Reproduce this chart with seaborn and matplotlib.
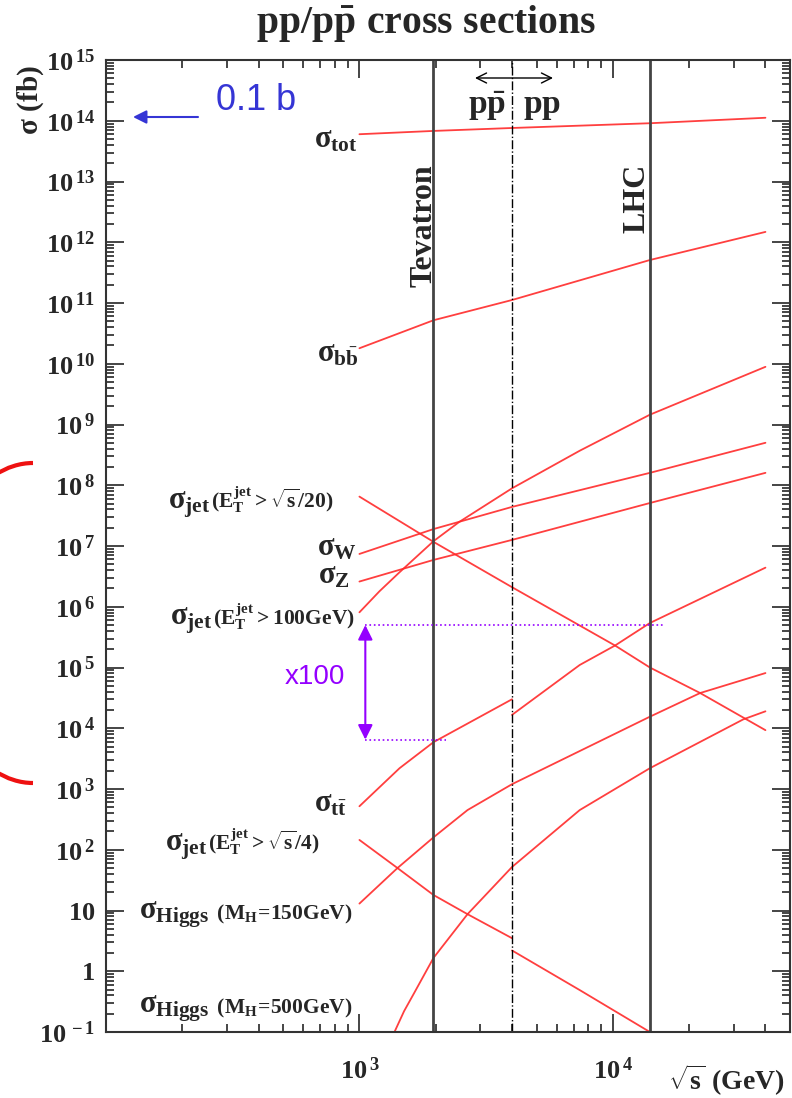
import matplotlib
matplotlib.use('Agg')
import matplotlib.pyplot as plt
import seaborn as sns
from matplotlib.patches import Arc
from matplotlib.ticker import FixedLocator, FixedFormatter, LogLocator, NullFormatter

# sqrt(s) in GeV and cross sections in fb
rs_tot = [1000, 1960, 4000, 14000, 40000]
sig_tot = [6.0e13, 6.8e13, 7.6e13, 9.1e13, 1.12e14]

rs_bb = [1000, 1960, 4000, 14000, 40000]
sig_bb = [1.8e10, 5.2e10, 1.12e11, 5.1e11, 1.48e12]

rs_jet20 = [1000, 1960, 4000, 10200, 14000, 22100, 40000]
sig_jet20 = [6.5e7, 1.17e7, 2.1e6, 2.3e5, 1.0e5, 3.8e4, 9.3e3]

rs_w = [1000, 1960, 4000, 14000, 40000]
sig_w = [7.4e6, 1.9e7, 4.4e7, 1.6e8, 5.0e8]

rs_z = [1000, 1960, 4000, 14000, 40000]
sig_z = [2.6e6, 5.9e6, 1.26e7, 5.1e7, 1.6e8]

rs_jet100 = [1000, 1200, 1440, 1960, 2480, 4000, 7400, 14000, 40000]
sig_jet100 = [8.1e5, 1.8e6, 3.7e6, 1.2e7, 2.5e7, 8.9e7, 3.7e8, 1.45e9, 8.9e9]

# ttbar: ppbar below 4 TeV, pp above
rs_tt_ppbar = [1000, 1440, 1960, 4000]
sig_tt_ppbar = [5.2e2, 2.2e3, 5.9e3, 3.0e4]
rs_tt_pp = [4000, 7400, 10200, 14000, 40000]
sig_tt_pp = [1.66e4, 1.1e5, 2.3e5, 5.4e5, 4.4e6]

rs_h150 = [1000, 1413, 1960, 2670, 4000, 14000, 22100, 40000]
sig_h150 = [13, 50, 160, 450, 1.2e3, 1.55e4, 3.8e4, 8.1e4]

rs_jet4_ppbar = [1000, 1413, 1960, 2670, 4000]
sig_jet4_ppbar = [145, 50, 18, 8.7, 3.5]
rs_jet4_pp = [4000, 7400, 14000]
sig_jet4_pp = [2.2, 0.49, 0.1]

rs_h500 = [1375, 1500, 1650, 1960, 2670, 4000, 7400, 14000, 32700, 40000]
sig_h500 = [0.1, 0.22, 0.45, 1.66, 8.7, 52, 450, 2.2e3, 1.4e4, 1.9e4]

# x100 marker (ttbar Tevatron vs LHC)
x100_hi = 5.0e5
x100_lo = 6.5e3

sns.set_style('ticks')
plt.rcParams['font.family'] = ['Liberation Serif', 'DejaVu Serif']
plt.rcParams['font.weight'] = 'bold'
plt.rcParams['mathtext.fontset'] = 'custom'
plt.rcParams['mathtext.rm'] = 'Liberation Serif:bold'
plt.rcParams['mathtext.it'] = 'Liberation Serif:bold'
plt.rcParams['mathtext.bf'] = 'Liberation Serif:bold'

W, H = 792, 1098
fig = plt.figure(figsize=(W / 100, H / 100), dpi=100)
ax = fig.add_axes([106 / W, 1 - 1032 / H, (790 - 106) / W, (1032 - 60) / H])

red = '#ff2a2a'
curves = [(rs_tot, sig_tot), (rs_bb, sig_bb), (rs_jet20, sig_jet20), (rs_w, sig_w),
          (rs_z, sig_z), (rs_jet100, sig_jet100), (rs_tt_ppbar, sig_tt_ppbar),
          (rs_tt_pp, sig_tt_pp), (rs_h150, sig_h150), (rs_jet4_ppbar, sig_jet4_ppbar),
          (rs_jet4_pp, sig_jet4_pp), (rs_h500, sig_h500)]
for xs, ys in curves:
    sns.lineplot(x=xs, y=ys, ax=ax, color=red, lw=1.3, alpha=0.9,
                 sort=False, estimator=None)

ax.set_xscale('log')
ax.set_yscale('log')
ax.set_xlim(100, 50000)
ax.set_ylim(0.1, 1e15)

# collider lines
ax.axvline(1960, color='#444444', lw=2)
ax.axvline(14000, color='#444444', lw=2)
ax.axvline(4000, color='black', lw=1, ls='-.')

# x100 marker
purple = '#9400ff'
ax.hlines(x100_hi, 1055, 15800, color=purple, lw=1.2, ls=':')
ax.hlines(x100_lo, 1055, 2200, color=purple, lw=1.2, ls=':')
ax.annotate('', xy=(1055, x100_lo), xytext=(1055, x100_hi),
            arrowprops=dict(arrowstyle='<|-|>', color=purple, lw=1.5,
                            mutation_scale=22, shrinkA=0, shrinkB=0))

# ticks
ax.tick_params(which='both', direction='in', top=True, right=True, width=1.2)
ax.tick_params(which='major', length=13, labelsize=19, pad=8)
ax.tick_params(which='minor', length=6)
ax.xaxis.set_major_locator(FixedLocator([1e2, 1e3, 1e4]))
ax.xaxis.set_major_formatter(FixedFormatter(['', r'$10^{\,3}$', r'$10^{\,4}$']))
ax.xaxis.set_minor_locator(LogLocator(base=10, subs=range(2, 10), numticks=20))
ax.xaxis.set_minor_formatter(NullFormatter())
ax.tick_params(axis='x', which='major', pad=18)

exps = list(range(-1, 16))
ylabels = []
for e in exps:
    if e == 0:
        ylabels.append(r'$1\quad\,$')
    elif e == 1:
        ylabels.append(r'$10\quad$')
    else:
        ylabels.append(r'$10^{\,%d}$' % e)
ax.yaxis.set_major_locator(FixedLocator([10.0 ** e for e in exps]))
ax.yaxis.set_major_formatter(FixedFormatter(ylabels))
ax.yaxis.set_minor_locator(LogLocator(base=10, subs=range(2, 10), numticks=40))
ax.yaxis.set_minor_formatter(NullFormatter())
for s in ax.spines.values():
    s.set_linewidth(1.5)
    s.set_color('#333333')
ax.set_xlabel('')
ax.set_ylabel('')

# overlay in pixel coordinates for annotations
ov = fig.add_axes([0, 0, 1, 1], facecolor='none')
ov.set_xlim(0, W)
ov.set_ylim(H, 0)
ov.axis('off')

ov.text(426, 24, r'$pp/p\bar{p}\ cross\ sections$', fontsize=28.5, ha='center', va='center')
ov.text(31, 100, r'$\sigma\ (fb)$', fontsize=21, rotation=90, ha='center', va='center')
ov.text(726, 1080, r'$\sqrt{s}\ (GeV)$', fontsize=20, ha='center', va='center')

ov.text(424, 226, 'Tevatron', fontsize=23, rotation=90, ha='center', va='center')
ov.text(637, 198, 'LHC', fontsize=23, rotation=90, ha='center', va='center')
ov.annotate('', xy=(475, 78), xytext=(553, 78),
            arrowprops=dict(arrowstyle='<->', color='black', lw=1, mutation_scale=18,
                            shrinkA=0, shrinkB=0))
ov.text(487, 106, r'$p\bar{p}$', fontsize=24, ha='center', va='center')
ov.text(542, 106, r'$pp$', fontsize=24, ha='center', va='center')

blue = '#3535d5'
ov.text(256, 100, '0.1 b', fontsize=26, color=blue, family='Liberation Sans',
        weight='normal', ha='center', va='center')
ov.annotate('', xy=(133, 117), xytext=(198, 117),
            arrowprops=dict(arrowstyle='-|>', color=blue, lw=1.5, mutation_scale=20,
                            shrinkA=0, shrinkB=0))
ov.text(315, 677, 'x100', fontsize=20, color=purple, family='Liberation Sans',
        weight='normal', ha='center', va='center')

ov.add_patch(Arc((33, 623), 200, 320, theta1=90, theta2=270, color='#ee1111', lw=3))

# curve labels: (right edge, baseline, sigma part, bracket part)
labels = [
    (357, 147, r'$\sigma_{tot}$', ''),
    (358, 362, r'$\sigma_{b\bar{b}}$', ''),
    (333, 508, r'$\sigma_{jet}$', r'$(E_T^{jet}> \sqrt{s}/20)$'),
    (357, 555, r'$\sigma_W$', ''),
    (350, 584, r'$\sigma_Z$', ''),
    (355, 625, r'$\sigma_{jet}$', r'$(E_T^{jet}> 100GeV)$'),
    (347, 812, r'$\sigma_{t\bar{t}}$', ''),
    (320, 850, r'$\sigma_{jet}$', r'$(E_T^{jet}> \sqrt{s}/4)$'),
    (352, 919, r'$\sigma_{Higgs}$', r'$\ (M_H\!=\!150GeV)$'),
    (352, 1013, r'$\sigma_{Higgs}$', r'$\ (M_H\!=\!500GeV)$'),
]
renderer = fig.canvas.get_renderer()
for x, y, main, extra in labels:
    if extra:
        # bracket part right-aligned, sigma part placed just left of it
        t = ov.text(x, y, extra, fontsize=15.5, ha='right', va='baseline')
        x0 = t.get_window_extent(renderer).x0 - 1
        ov.text(x0, H - y, main, fontsize=22, ha='right', va='baseline', transform=None)
    else:
        ov.text(x, y, main, fontsize=22, ha='right', va='baseline')

fig.savefig('out.png', dpi=100)
